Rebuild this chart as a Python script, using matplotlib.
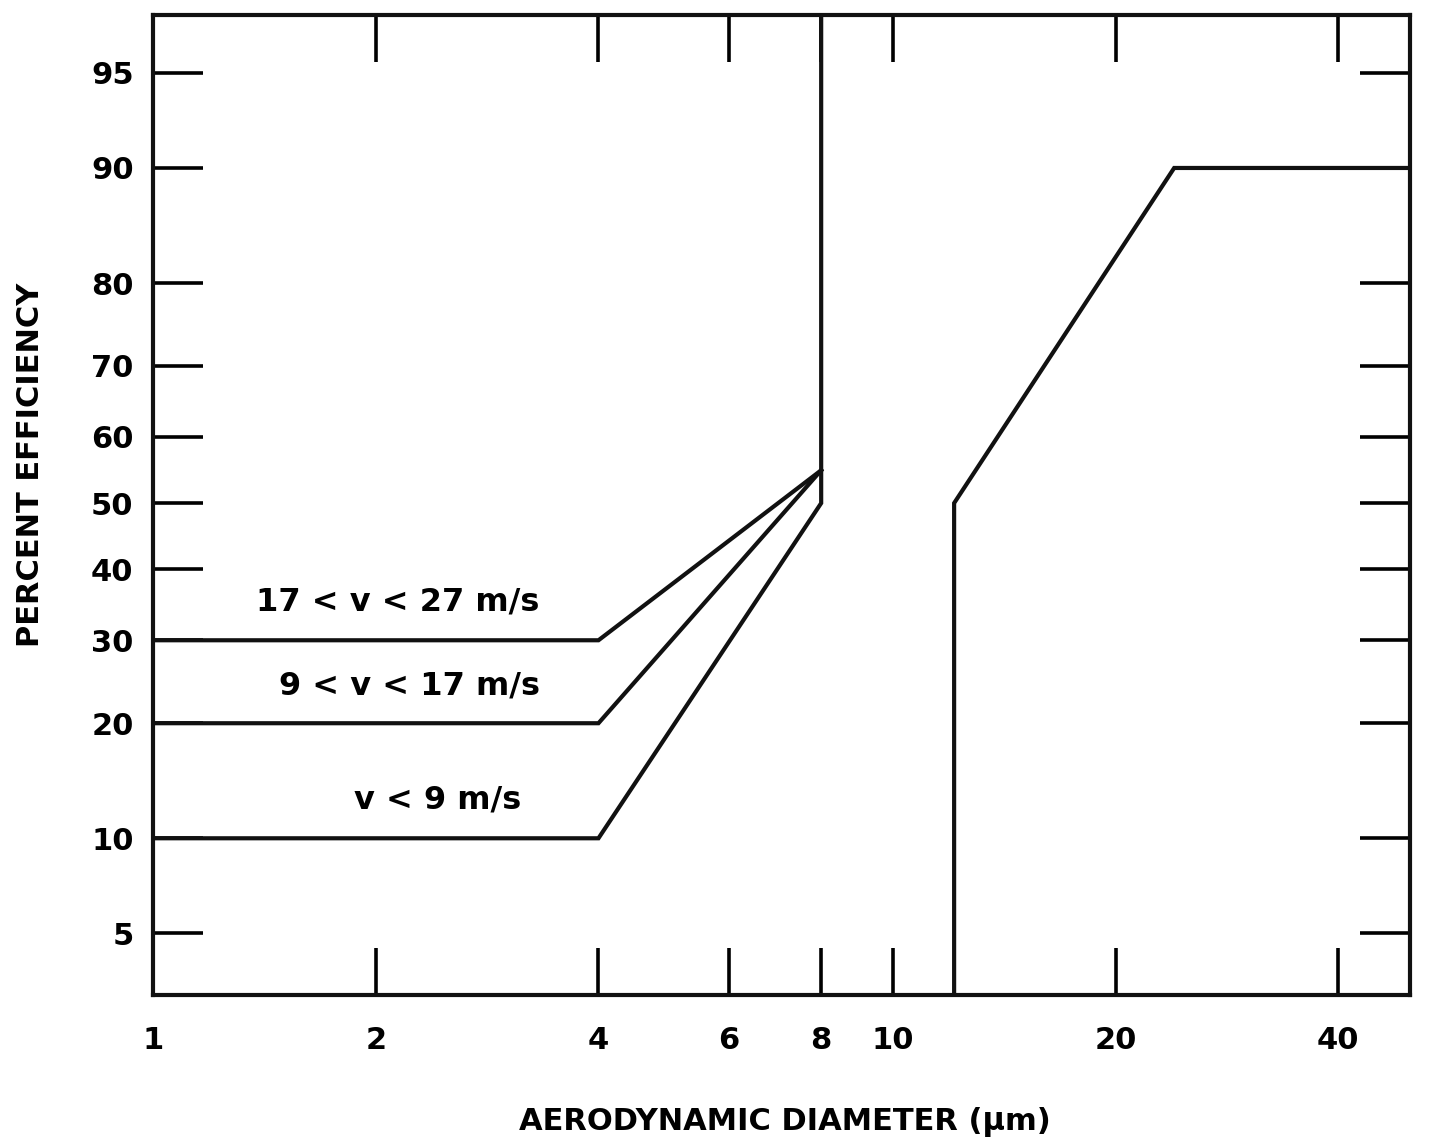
import numpy as np
import matplotlib
matplotlib.use("Agg")
import matplotlib.pyplot as plt
from statistics import NormalDist

# efficiency curves (aerodynamic diameter in um, percent efficiency)
slow_x = [1, 4, 8, 8]
slow_y = [10, 10, 50, 99]
mid_x = [1, 4, 8]
mid_y = [20, 20, 55]
fast_x = [1, 4, 8]
fast_y = [30, 30, 55]
upper_x = [12.1, 12.1, 24, 50]
upper_y = [1, 50, 90, 90]

x_ticks = [1, 2, 4, 6, 8, 10, 20, 40]
y_ticks = [5, 10, 20, 30, 40, 50, 60, 70, 80, 90, 95]

labels = ["17 < v < 27 m/s", "9 < v < 17 m/s", "v < 9 m/s"]

nd = NormalDist()
_ppf = np.vectorize(nd.inv_cdf, otypes=[float])
_cdf = np.vectorize(nd.cdf, otypes=[float])


def prob_fwd(p):
    p = np.clip(np.asarray(p, float), 1e-6, 100 - 1e-6)
    return _ppf(p / 100.0)


def prob_inv(z):
    return _cdf(np.asarray(z, float)) * 100.0


plt.rcParams["font.family"] = ["DejaVu Sans"]
plt.rcParams["font.weight"] = "bold"

fig = plt.figure(figsize=(14.29, 11.4), dpi=100)
ax = fig.add_axes([0.1071, 0.1272, 0.8796, 0.8596])
ax.set_xscale("log")
ax.set_yscale("function", functions=(prob_fwd, prob_inv))
ax.set_xlim(1, 50)
ax.set_ylim(3.0, 96.9)

lw = 3.0
for xs, ys in [(slow_x, slow_y), (mid_x, mid_y), (fast_x, fast_y), (upper_x, upper_y)]:
    ax.plot(xs, ys, color="#111111", lw=lw, solid_joinstyle="miter")

ax.text(3.33, 35.2, labels[0], ha="right", va="center", fontsize=23, fontweight="bold")
ax.text(3.33, 24.2, labels[1], ha="right", va="center", fontsize=23, fontweight="bold")
ax.text(3.15, 12.8, labels[2], ha="right", va="center", fontsize=23, fontweight="bold")

ax.set_xticks(x_ticks)
ax.set_xticklabels([str(v) for v in x_ticks])
ax.xaxis.set_minor_locator(matplotlib.ticker.NullLocator())
ax.set_yticks(y_ticks)
ax.set_yticklabels([str(v) for v in y_ticks])
ax.yaxis.set_minor_locator(matplotlib.ticker.NullLocator())

ax.tick_params(axis="x", which="major", direction="in", top=True, bottom=True,
               length=34, width=2.6, pad=22, labelsize=22)
ax.tick_params(axis="y", which="major", direction="in", left=True, right=True,
               length=36, width=2.6, pad=14, labelsize=22)

for sp in ax.spines.values():
    sp.set_linewidth(3.0)
    sp.set_color("#111111")

fig.text(0.549, 0.016, "AERODYNAMIC DIAMETER (\u03bcm)", fontsize=22, fontweight="bold",
         ha="center", va="center")
fig.text(0.021, 0.592, "PERCENT EFFICIENCY", fontsize=22, fontweight="bold",
         ha="center", va="center", rotation=90)

fig.savefig("out.png", dpi=100)
